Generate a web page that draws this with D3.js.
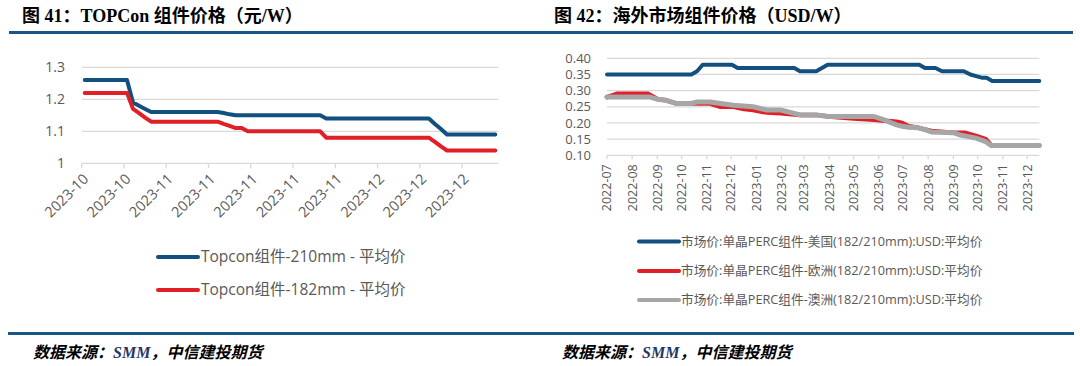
<!DOCTYPE html>
<html><head><meta charset="utf-8">
<script src="https://cdn.jsdelivr.net/npm/d3@7"></script>
<style>html,body{margin:0;padding:0;background:#fff;}svg{display:block;}</style>
</head><body>
<svg id="c" width="1080" height="366"></svg>
<script>
// ---------- Left chart data ----------
const leftTickLabels = ["2023-10","2023-10","2023-11","2023-11","2023-11","2023-11","2023-11","2023-12","2023-12","2023-12"];
const leftYTicks = [1, 1.1, 1.2, 1.3];
const topcon210 = [1.26,1.26,1.26,1.26,1.26,1.26,1.26,1.26,
  1.19,1.18,1.17,
  1.16,1.16,1.16,1.16,1.16,1.16,1.16,1.16,1.16,1.16,1.16,1.16,
  1.157,1.153,
  1.15,1.15,1.15,1.15,1.15,1.15,1.15,1.15,1.15,1.15,1.15,1.15,1.15,1.15,1.15,
  1.14,1.14,1.14,1.14,1.14,1.14,1.14,1.14,1.14,1.14,1.14,1.14,1.14,1.14,1.14,1.14,1.14,1.14,
  1.123,1.107,
  1.09,1.09,1.09,1.09,1.09,1.09,1.09,1.09,1.09];
const topcon182 = [1.22,1.22,1.22,1.22,1.22,1.22,1.22,1.22,
  1.17,1.157,1.143,
  1.13,1.13,1.13,1.13,1.13,1.13,1.13,1.13,1.13,1.13,1.13,1.13,
  1.123,1.117,1.11,1.11,
  1.10,1.10,1.10,1.10,1.10,1.10,1.10,1.10,1.10,1.10,1.10,1.10,1.10,
  1.08,1.08,1.08,1.08,1.08,1.08,1.08,1.08,1.08,1.08,1.08,1.08,1.08,1.08,1.08,1.08,1.08,1.08,
  1.067,1.053,
  1.04,1.04,1.04,1.04,1.04,1.04,1.04,1.04,1.04];
const leftSeriesNames = ["Topcon组件-210mm - 平均价","Topcon组件-182mm - 平均价"];

// ---------- Right chart data ----------
const rightYTicks = [0.10,0.15,0.20,0.25,0.30,0.35,0.40];
const usPrice = [["2022-07-01",0.35],["2022-10-13",0.35],["2022-10-20",0.36],["2022-10-27",0.38],["2022-12-02",0.38],["2022-12-09",0.37],["2023-02-17",0.37],["2023-02-24",0.36],["2023-03-16",0.36],["2023-03-30",0.38],["2023-07-21",0.38],["2023-07-28",0.37],["2023-08-10",0.37],["2023-08-18",0.36],["2023-09-14",0.36],["2023-09-22",0.35],["2023-09-29",0.345],["2023-10-06",0.34],["2023-10-12",0.34],["2023-10-19",0.33],["2023-12-16",0.33]];
const euPrice = [["2022-07-01",0.28],["2022-07-13",0.29],["2022-08-21",0.29],["2022-09-02",0.273],["2022-09-12",0.27],["2022-09-25",0.26],["2022-11-05",0.26],["2022-11-18",0.25],["2022-12-04",0.25],["2022-12-17",0.243],["2022-12-28",0.24],["2023-01-14",0.232],["2023-01-31",0.23],["2023-02-24",0.225],["2023-03-16",0.225],["2023-03-31",0.22],["2023-05-01",0.214],["2023-05-26",0.21],["2023-06-23",0.204],["2023-06-30",0.20],["2023-07-08",0.19],["2023-07-20",0.185],["2023-08-05",0.175],["2023-09-01",0.17],["2023-09-15",0.17],["2023-09-29",0.16],["2023-10-11",0.15],["2023-10-18",0.13],["2023-12-16",0.13]];
const auPrice = [["2022-07-01",0.28],["2022-08-23",0.28],["2022-09-02",0.273],["2022-09-12",0.27],["2022-09-25",0.26],["2022-10-12",0.26],["2022-10-20",0.265],["2022-11-05",0.265],["2022-11-18",0.26],["2022-12-04",0.255],["2022-12-28",0.25],["2023-01-14",0.24],["2023-01-31",0.24],["2023-02-24",0.225],["2023-03-16",0.225],["2023-03-31",0.22],["2023-05-26",0.22],["2023-06-07",0.21],["2023-06-23",0.194],["2023-06-30",0.19],["2023-07-08",0.187],["2023-07-20",0.185],["2023-07-30",0.178],["2023-08-05",0.172],["2023-09-01",0.17],["2023-09-09",0.163],["2023-09-15",0.16],["2023-09-29",0.153],["2023-10-11",0.142],["2023-10-18",0.13],["2023-12-16",0.13]];
const rightSeriesNames = ["市场价:单晶PERC组件-美国(182/210mm):USD:平均价","市场价:单晶PERC组件-欧洲(182/210mm):USD:平均价","市场价:单晶PERC组件-澳洲(182/210mm):USD:平均价"];

const titles = ["图 41：TOPCon 组件价格（元/W）","图 42：海外市场组件价格（USD/W）"];
const sourceText = ["数据来源：","SMM","，中信建投期货"];

// ---------- styles ----------
const BLUE = "#12507F", RED = "#E01F26", GREY = "#A6A6A6", RULE = "#1A5685";
const TXT = "#595959", GRID = "#D9D9D9";
const SANS = "'Open Sans','Noto Sans CJK SC',sans-serif";
const TITLEF = "'Liberation Serif','Noto Sans CJK SC',serif";

const svg = d3.select("#c");

// titles & rules
[[22, titles[0]], [554, titles[1]]].forEach(([x, t]) => {
  svg.append("text").attr("x", x).attr("y", 22).text(t)
    .style("font-family", TITLEF).style("font-weight", "bold").style("font-size", "18px").attr("fill", "#000");
});
svg.append("rect").attr("x", 9).attr("y", 31).attr("width", 1064).attr("height", 3).attr("fill", RULE);
svg.append("rect").attr("x", 8).attr("y", 332).attr("width", 1066).attr("height", 3).attr("fill", RULE);
[33, 562].forEach(x => {
  const t = svg.append("text").attr("x", x).attr("y", 358)
    .style("font-weight", "bold").style("font-style", "italic").style("font-size", "16px");
  t.append("tspan").text(sourceText[0]).style("font-family", "'Noto Sans CJK SC',sans-serif");
  t.append("tspan").text(sourceText[1]).style("font-family", "'Liberation Serif',serif").attr("fill", "#1F3864");
  t.append("tspan").text(sourceText[2]).style("font-family", "'Noto Sans CJK SC',sans-serif");
});

// ---------- Left chart ----------
const L = {x0: 81.7, x1: 498.3, y0: 163.3, y1: 67.3};
const lx = d3.scaleBand().domain(d3.range(topcon210.length)).range([L.x0, L.x1]);
const ly = d3.scaleLinear().domain([1.0, 1.3]).range([L.y0, L.y1]);
const gL = svg.append("g");
gL.selectAll("line.grid").data(leftYTicks.filter(v => v > 1)).join("line")
  .attr("x1", L.x0).attr("x2", L.x1).attr("y1", d => ly(d)).attr("y2", d => ly(d))
  .attr("stroke", GRID).attr("stroke-width", 1.3);
gL.selectAll("text.yl").data(leftYTicks).join("text")
  .attr("x", 65).attr("y", d => ly(d)).attr("dy", "0.35em").attr("text-anchor", "end")
  .text(d => String(d)).attr("fill", TXT).style("font-family", SANS).style("font-size", "14px");
gL.append("line").attr("x1", L.x0).attr("x2", L.x1).attr("y1", L.y0).attr("y2", L.y0).attr("stroke", GRID).attr("stroke-width", 1.3);
const leftTickIdx = leftTickLabels.map((_, k) => k * 7);
gL.selectAll("line.tk").data(leftTickIdx).join("line")
  .attr("x1", d => lx(d)).attr("x2", d => lx(d)).attr("y1", L.y0).attr("y2", L.y0 + 5)
  .attr("stroke", GRID).attr("stroke-width", 1.3);
gL.selectAll("text.xl").data(leftTickIdx).join("text")
  .attr("transform", d => `translate(${lx(d) + 4},${L.y0 + 13}) rotate(-45)`)
  .attr("text-anchor", "end").attr("dy", "0.35em")
  .text((d, k) => leftTickLabels[k]).attr("fill", TXT).style("font-family", SANS).style("font-size", "14.5px");
const lline = d3.line().x((d, i) => lx(i) + lx.bandwidth() / 2).y(d => ly(d));
[[topcon210, BLUE], [topcon182, RED]].forEach(([s, c]) => {
  gL.append("path").attr("d", lline(s)).attr("fill", "none").attr("stroke", c)
    .attr("stroke-width", 4).attr("stroke-linejoin", "round").attr("stroke-linecap", "round");
});
[[BLUE, 257], [RED, 290]].forEach(([c, y], k) => {
  gL.append("line").attr("x1", 158).attr("x2", 198).attr("y1", y).attr("y2", y)
    .attr("stroke", c).attr("stroke-width", 4).attr("stroke-linecap", "round");
  gL.append("text").attr("x", 201).attr("y", y).attr("dy", "0.35em").text(leftSeriesNames[k])
    .attr("fill", TXT).style("font-family", SANS).style("font-size", "15.5px");
});

// ---------- Right chart ----------
const R = {x0: 607, x1: 1039.3, y0: 155.3, y1: 58.3};
const parse = d3.timeParse("%Y-%m-%d");
const rx = d3.scaleTime().domain([parse("2022-07-01"), parse("2023-12-16")]).range([R.x0, R.x1]);
const ry = d3.scaleLinear().domain([0.10, 0.40]).range([R.y0, R.y1]);
const gR = svg.append("g");
gR.selectAll("line.grid").data(rightYTicks.filter(v => v > 0.1)).join("line")
  .attr("x1", R.x0).attr("x2", R.x1).attr("y1", d => ry(d)).attr("y2", d => ry(d))
  .attr("stroke", GRID).attr("stroke-width", 1.3);
gR.selectAll("text.yl").data(rightYTicks).join("text")
  .attr("x", 591).attr("y", d => ry(d)).attr("dy", "0.35em").attr("text-anchor", "end")
  .text(d => d3.format(".2f")(d)).attr("fill", TXT).style("font-family", SANS).style("font-size", "13px");
gR.append("line").attr("x1", R.x0).attr("x2", R.x1).attr("y1", R.y0).attr("y2", R.y0).attr("stroke", GRID).attr("stroke-width", 1.3);
const months = rx.ticks(d3.timeMonth.every(1));
gR.selectAll("line.tk").data(months).join("line")
  .attr("x1", d => rx(d)).attr("x2", d => rx(d)).attr("y1", R.y0).attr("y2", R.y0 + 4)
  .attr("stroke", GRID).attr("stroke-width", 1.3);
gR.selectAll("text.xl").data(months).join("text")
  .attr("transform", d => `translate(${rx(d)},${R.y0 + 9}) rotate(-90)`)
  .attr("text-anchor", "end").attr("dy", "0.35em")
  .text(d => d3.timeFormat("%Y-%m")(d)).attr("fill", TXT).style("font-family", SANS).style("font-size", "12.5px");
const rline = d3.line().x(d => rx(parse(d[0]))).y(d => ry(d[1]));
[[usPrice, BLUE, 4], [euPrice, RED, 4.5], [auPrice, GREY, 5]].forEach(([s, c, w]) => {
  gR.append("path").attr("d", rline(s)).attr("fill", "none").attr("stroke", c)
    .attr("stroke-width", w).attr("stroke-linejoin", "round").attr("stroke-linecap", "round");
});
[[BLUE, 241.5], [RED, 271], [GREY, 300]].forEach(([c, y], k) => {
  gR.append("line").attr("x1", 639).attr("x2", 679).attr("y1", y).attr("y2", y)
    .attr("stroke", c).attr("stroke-width", 4).attr("stroke-linecap", "round");
  gR.append("text").attr("x", 681).attr("y", y).attr("dy", "0.35em").text(rightSeriesNames[k])
    .attr("fill", TXT).style("font-family", SANS).style("font-size", "12.7px");
});
</script>
</body></html>
